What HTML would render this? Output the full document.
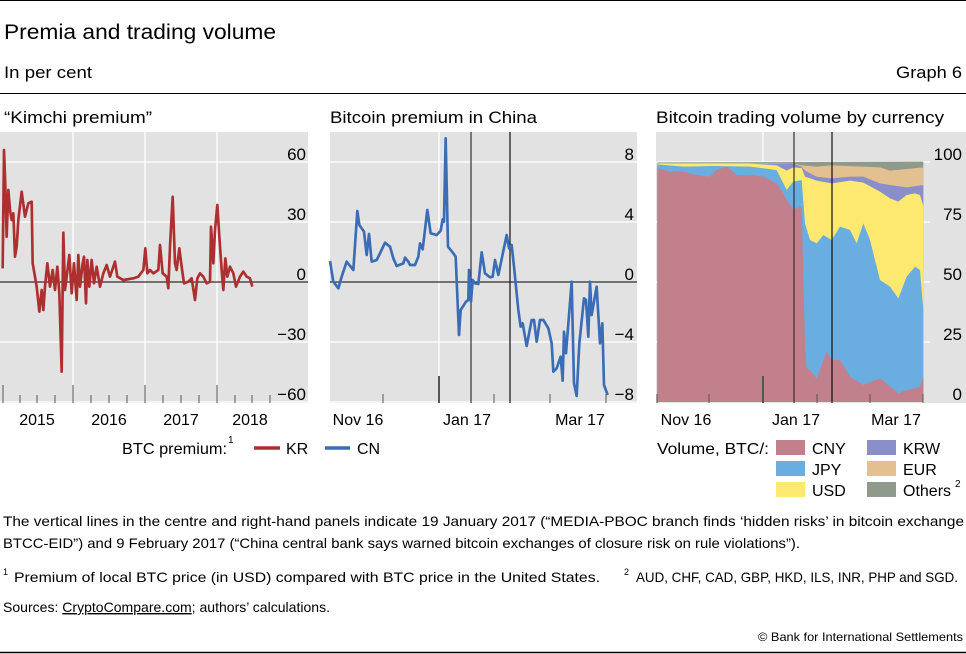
<!DOCTYPE html>
<html><head><meta charset="utf-8"><style>
html,body{margin:0;padding:0;background:#fff;}
svg{display:block;font-family:"Liberation Sans",sans-serif;}
</style></head><body>
<svg width="966" height="654" viewBox="0 0 966 654" xmlns="http://www.w3.org/2000/svg">
<line x1="0" y1="0.5" x2="966" y2="0.5" stroke="#000" stroke-width="1"/>
<text x="4" y="39" font-size="21" textLength="272" lengthAdjust="spacingAndGlyphs">Premia and trading volume</text>
<text x="4" y="78" font-size="17" textLength="88" lengthAdjust="spacingAndGlyphs">In per cent</text>
<text x="962" y="78" font-size="17" text-anchor="end" textLength="66" lengthAdjust="spacingAndGlyphs">Graph 6</text>
<line x1="0" y1="93.5" x2="966" y2="93.5" stroke="#000" stroke-width="1"/>

<text x="4" y="123" font-size="17" textLength="148" lengthAdjust="spacingAndGlyphs">“Kimchi premium”</text>
<text x="330" y="123" font-size="17" textLength="207" lengthAdjust="spacingAndGlyphs">Bitcoin premium in China</text>
<text x="656" y="123" font-size="17" textLength="288" lengthAdjust="spacingAndGlyphs">Bitcoin trading volume by currency</text>

<!-- LEFT PANEL -->
<rect x="0" y="132" width="308" height="271" fill="#e2e2e2"/>
<g stroke="#fff" stroke-width="1.3">
<line x1="0" y1="162" x2="308" y2="162"/><line x1="0" y1="222" x2="308" y2="222"/><line x1="0" y1="342" x2="308" y2="342"/><line x1="0" y1="402" x2="308" y2="402"/>
<line x1="73" y1="132" x2="73" y2="403"/><line x1="145" y1="132" x2="145" y2="403"/><line x1="217" y1="132" x2="217" y2="403"/>
</g>
<line x1="0" y1="282" x2="308" y2="282" stroke="#000" stroke-width="1"/>
<g stroke="#555" stroke-width="1">
<line x1="3" y1="385" x2="3" y2="403"/><line x1="20" y1="395" x2="20" y2="403"/><line x1="37" y1="395" x2="37" y2="403"/><line x1="55" y1="395" x2="55" y2="403"/>
<line x1="73" y1="385" x2="73" y2="403"/><line x1="91" y1="395" x2="91" y2="403"/><line x1="109" y1="395" x2="109" y2="403"/><line x1="127" y1="395" x2="127" y2="403"/>
<line x1="145" y1="385" x2="145" y2="403"/><line x1="163" y1="395" x2="163" y2="403"/><line x1="181" y1="395" x2="181" y2="403"/><line x1="199" y1="395" x2="199" y2="403"/>
<line x1="217" y1="385" x2="217" y2="403"/><line x1="235" y1="395" x2="235" y2="403"/><line x1="252" y1="395" x2="252" y2="403"/><line x1="270" y1="395" x2="270" y2="403"/>
</g>
<g transform="translate(0,130) scale(0.33333)">
<polyline fill="none" stroke="#ad2f2f" stroke-width="8" stroke-linejoin="round" points="8,415 12,60 15,140 20,320 25,180 30,240 35,270 40,250 45,380 50,350 55,270 65,185 75,260 85,220 95,215 98,400 105,440 110,470 118,545 125,480 130,540 135,470 142,400 150,470 158,420 165,480 172,410 178,490 185,725 190,308 195,480 200,440 208,375 215,490 222,400 230,510 235,375 240,470 248,400 252,380 258,520 262,390 268,470 275,390 282,460 290,410 300,470 310,430 320,405 330,440 345,395 352,440 370,450 400,445 415,440 430,420 436,355 442,430 450,420 460,430 475,420 480,345 488,430 500,440 505,475 510,350 518,200 525,400 530,420 538,355 545,410 552,460 565,455 575,445 585,510 592,445 600,430 610,440 620,460 630,455 633,290 640,400 645,300 652,225 658,320 665,420 670,480 676,385 682,440 690,410 700,430 708,470 720,440 730,425 740,440 750,445 757,470"/>
</g>
<g font-size="17" text-anchor="end">
<text x="306" y="160">60</text><text x="306" y="220">30</text><text x="306" y="280">0</text><text x="306" y="340">−30</text><text x="306" y="400">−60</text>
</g>
<g font-size="16" text-anchor="middle">
<text x="37" y="425">2015</text><text x="109" y="425">2016</text><text x="181" y="425">2017</text><text x="250" y="425">2018</text>
</g>

<!-- MIDDLE PANEL -->
<rect x="330" y="132" width="307" height="271" fill="#e2e2e2"/>
<g stroke="#fff" stroke-width="1.3">
<line x1="330" y1="162" x2="637" y2="162"/><line x1="330" y1="222" x2="637" y2="222"/><line x1="330" y1="342" x2="637" y2="342"/><line x1="330" y1="402" x2="637" y2="402"/>
<line x1="439" y1="132" x2="439" y2="403"/>
</g>
<line x1="330" y1="282" x2="637" y2="282" stroke="#000" stroke-width="1"/>
<line x1="471" y1="132" x2="471" y2="403" stroke="#333" stroke-width="1.2"/>
<line x1="510" y1="132" x2="510" y2="403" stroke="#111" stroke-width="1.2"/>
<g stroke="#555" stroke-width="1">
<line x1="383" y1="394" x2="383" y2="403"/><line x1="439" y1="376" x2="439" y2="403" stroke-width="2"/><line x1="494" y1="394" x2="494" y2="403"/><line x1="550" y1="394" x2="550" y2="403"/><line x1="606" y1="394" x2="606" y2="403"/>
</g>
<g transform="translate(310,130) scale(0.33333)">
<polyline fill="none" stroke="#3a6db5" stroke-width="8" stroke-linejoin="round" points="60,393 70,455 85,475 95,440 110,395 130,420 142,243 148,285 162,305 170,375 177,312 185,395 200,390 210,370 225,338 240,350 250,385 260,408 280,400 285,383 295,395 300,405 315,405 325,380 330,340 338,358 352,240 362,310 380,315 392,302 398,268 402,275 407,25 414,350 430,370 437,380 447,615 452,540 468,515 475,510 477,420 483,515 488,450 495,460 505,462 515,367 525,430 540,442 548,440 555,390 565,435 590,315 597,355 605,345 612,410 625,540 632,590 638,580 650,648 665,570 672,570 680,635 690,570 700,570 715,595 725,640 730,725 740,715 752,680 758,752 762,605 768,670 785,455 792,760 800,798 808,640 822,505 828,510 835,620 840,455 845,555 860,470 870,640 877,580 882,765 893,795"/>
</g>
<g font-size="17" text-anchor="end">
<text x="634" y="160">8</text><text x="634" y="220">4</text><text x="634" y="280">0</text><text x="634" y="340">−4</text><text x="634" y="400">−8</text>
</g>
<g font-size="16" text-anchor="middle">
<text x="358" y="425">Nov 16</text><text x="467" y="425">Jan 17</text><text x="580" y="425">Mar 17</text>
</g>

<!-- RIGHT PANEL -->
<rect x="656" y="132" width="310" height="271" fill="#e2e2e2"/>
<g stroke="#fff" stroke-width="1.3">
<line x1="656" y1="162" x2="930" y2="162"/><line x1="656" y1="222" x2="930" y2="222"/><line x1="656" y1="282" x2="930" y2="282"/><line x1="656" y1="342" x2="930" y2="342"/>
<line x1="763" y1="132" x2="763" y2="403"/>
</g>
<g transform="translate(650,130) scale(0.33333)">
<polygon fill="#8f998c" points="22,97 820,95 820,816 22,816"/>
<polygon fill="#e2c08f" points="22,99 380,99 430,100 455,106 500,110 545,106 690,112 720,122 820,112 820,816 22,816"/>
<polygon fill="#8a8fcc" points="22,99 430,101 455,110 465,122 500,140 545,145 600,140 640,140 690,160 720,165 770,172 820,165 820,816 22,816"/>
<polygon fill="#fde870" points="22,100 300,101 380,106 410,122 430,112 455,114 465,140 500,152 545,160 600,152 640,158 690,185 720,205 745,215 770,195 795,190 810,195 820,228 820,816 22,816"/>
<polygon fill="#6aade0" points="22,103 100,110 200,108 300,110 380,120 400,160 410,180 430,155 455,150 465,280 480,330 500,340 520,315 545,330 570,290 600,300 620,340 640,280 660,330 690,450 720,470 745,505 770,440 795,410 810,420 820,540 820,816 22,816"/>
<polygon fill="#c27f8c" points="22,115 60,125 100,125 140,135 180,140 200,120 230,110 260,135 300,135 340,140 380,160 400,190 410,210 430,238 455,230 465,650 470,715 480,720 500,745 530,665 545,690 570,690 600,740 640,765 690,745 720,770 745,790 770,780 795,775 810,770 820,740 820,816 22,816"/>
</g>
<line x1="794" y1="132" x2="794" y2="403" stroke="#333" stroke-width="1.2"/>
<line x1="832" y1="132" x2="832" y2="403" stroke="#111" stroke-width="1.2"/>
<g stroke="#555" stroke-width="1">
<line x1="657" y1="394" x2="657" y2="403"/><line x1="709" y1="394" x2="709" y2="403"/><line x1="763" y1="376" x2="763" y2="403" stroke-width="2"/><line x1="817" y1="394" x2="817" y2="403"/><line x1="870" y1="394" x2="870" y2="403"/><line x1="923" y1="394" x2="923" y2="403"/>
</g>
<g font-size="17" text-anchor="end">
<text x="962" y="160">100</text><text x="962" y="220">75</text><text x="962" y="280">50</text><text x="962" y="340">25</text><text x="962" y="400">0</text>
</g>
<g font-size="16" text-anchor="middle">
<text x="686" y="425">Nov 16</text><text x="796" y="425">Jan 17</text><text x="896" y="425">Mar 17</text>
</g>

<!-- Legends -->
<g font-size="16">
<text x="122" y="454" textLength="105" lengthAdjust="spacingAndGlyphs">BTC premium:</text><text x="228" y="443" font-size="10">1</text>
<line x1="254" y1="448" x2="280" y2="448" stroke="#ad2f2f" stroke-width="3.5"/>
<text x="286" y="454">KR</text>
<line x1="325" y1="448" x2="350" y2="448" stroke="#3a6db5" stroke-width="3.5"/>
<text x="357" y="454">CN</text>

<text x="657" y="454" textLength="112" lengthAdjust="spacingAndGlyphs">Volume, BTC/:</text>
<rect x="776" y="440" width="29" height="15" fill="#c27f8c"/><text x="812" y="454">CNY</text>
<rect x="776" y="461" width="29" height="15" fill="#6aade0"/><text x="812" y="475">JPY</text>
<rect x="776" y="482" width="29" height="15" fill="#fde870"/><text x="812" y="496">USD</text>
<rect x="867" y="440" width="29" height="15" fill="#8a8fcc"/><text x="903" y="454">KRW</text>
<rect x="867" y="461" width="29" height="15" fill="#e2c08f"/><text x="903" y="475">EUR</text>
<rect x="867" y="482" width="29" height="15" fill="#8f998c"/><text x="903" y="496">Others</text><text x="955" y="487" font-size="10">2</text>
</g>

<!-- Footer -->
<g font-size="14">
<text x="3" y="526" textLength="961" lengthAdjust="spacingAndGlyphs">The vertical lines in the centre and right-hand panels indicate 19 January 2017 (“MEDIA-PBOC branch finds ‘hidden risks’ in bitcoin exchange</text>
<text x="3" y="548" textLength="797" lengthAdjust="spacingAndGlyphs">BTCC-EID”) and 9 February 2017 (“China central bank says warned bitcoin exchanges of closure risk on rule violations”).</text>
<text x="3" y="575" font-size="9">1</text>
<text x="14" y="582" textLength="586" lengthAdjust="spacingAndGlyphs">Premium of local BTC price (in USD) compared with BTC price in the United States.</text>
<text x="624" y="575" font-size="9">2</text>
<text x="636" y="582" textLength="322" lengthAdjust="spacingAndGlyphs">AUD, CHF, CAD, GBP, HKD, ILS, INR, PHP and SGD.</text>
<text x="3" y="612" textLength="327" lengthAdjust="spacingAndGlyphs">Sources: <tspan text-decoration="underline">CryptoCompare.com</tspan>; authors’ calculations.</text>
<text x="963" y="641" font-size="12" text-anchor="end" textLength="205" lengthAdjust="spacingAndGlyphs">© Bank for International Settlements</text>
</g>
<line x1="0" y1="652.5" x2="966" y2="652.5" stroke="#000" stroke-width="1.5"/>
</svg>
</body></html>
